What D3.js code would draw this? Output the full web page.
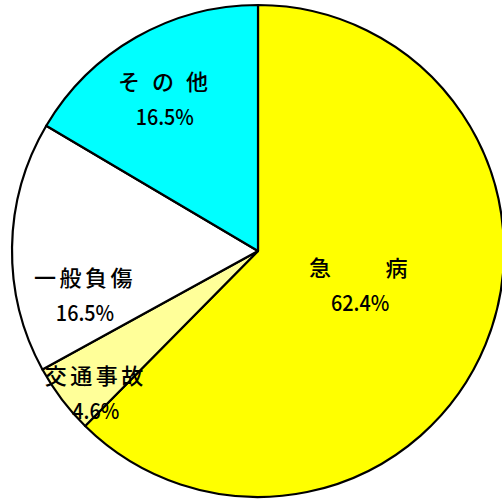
<!DOCTYPE html>
<html>
<head>
<meta charset="utf-8">
<script src="https://cdn.jsdelivr.net/npm/d3@7"></script>
<style>
	html, body { margin: 0; padding: 0; background: #fff; }
	svg { display: block; }
	.pie_name { font-family: "Noto Sans CJK JP", sans-serif; font-size: 22px; font-weight: 500; letter-spacing: 3.5px; fill: #000; }
	.pie_pct { font-family: "Noto Sans CJK JP", sans-serif; font-size: 22px; font-weight: 500; fill: #000; }
</style>
</head>
<body>
<div id="chart"></div>
<script>
// data
const categories = ['急病', '交通事故', '一般負傷', 'その他'];
const labelNames = ['急　　病', '交通事故', '一般負傷', 'そ の 他'];
const values = [62.4, 4.6, 16.5, 16.5];
const colors = ['#ffff00', '#ffff99', '#ffffff', '#00ffff'];

const options = {
	w: 502,
	h: 501,
	cx: 258,
	cy: 251,
	r: 246,
	labelR: 172,
	lineGap: 35,
	// label nudge from centroid
	nudge: [[-57, -31], [-25, 39], [-1, 47], [-8, -2]]
};

const svg = d3.select('#chart').append('svg')
	.attr('width', options.w)
	.attr('height', options.h);

const g = svg.append('g')
	.attr('transform', 'translate(' + options.cx + ',' + options.cy + ')');

const pie = d3.pie().sort(null).value(d => d.v);
const arcs = pie(categories.map((c, i) => ({ c: c, v: values[i], i: i })));

const arc = d3.arc().innerRadius(0).outerRadius(options.r);
const labelArc = d3.arc().innerRadius(options.labelR).outerRadius(options.labelR);

g.selectAll('path.slice')
	.data(arcs)
	.enter()
	.append('path')
	.attr('class', 'slice')
	.attr('d', arc)
	.attr('fill', d => colors[d.data.i])
	.attr('stroke', '#000')
	.attr('stroke-width', 2.2)
	.attr('stroke-linejoin', 'round');

const labels = g.selectAll('g.lbl')
	.data(arcs)
	.enter()
	.append('g')
	.attr('class', 'lbl')
	.attr('transform', d => {
		const c = labelArc.centroid(d);
		const n = options.nudge[d.data.i];
		return 'translate(' + (c[0] + n[0]) + ',' + (c[1] + n[1]) + ')';
	});

labels.append('text')
	.attr('class', 'pie_name')
	.attr('text-anchor', 'middle')
	.attr('y', -options.lineGap / 2)
	.attr('dy', '0.35em')
	.text(d => labelNames[d.data.i]);

// percent, a bit narrow like the original
labels.append('text')
	.attr('class', 'pie_pct')
	.attr('text-anchor', 'middle')
	.attr('transform', 'scale(0.9,1)')
	.attr('y', options.lineGap / 2)
	.attr('dy', '0.35em')
	.text(d => d3.format('.1f')(d.data.v) + '%');
</script>
</body>
</html>
